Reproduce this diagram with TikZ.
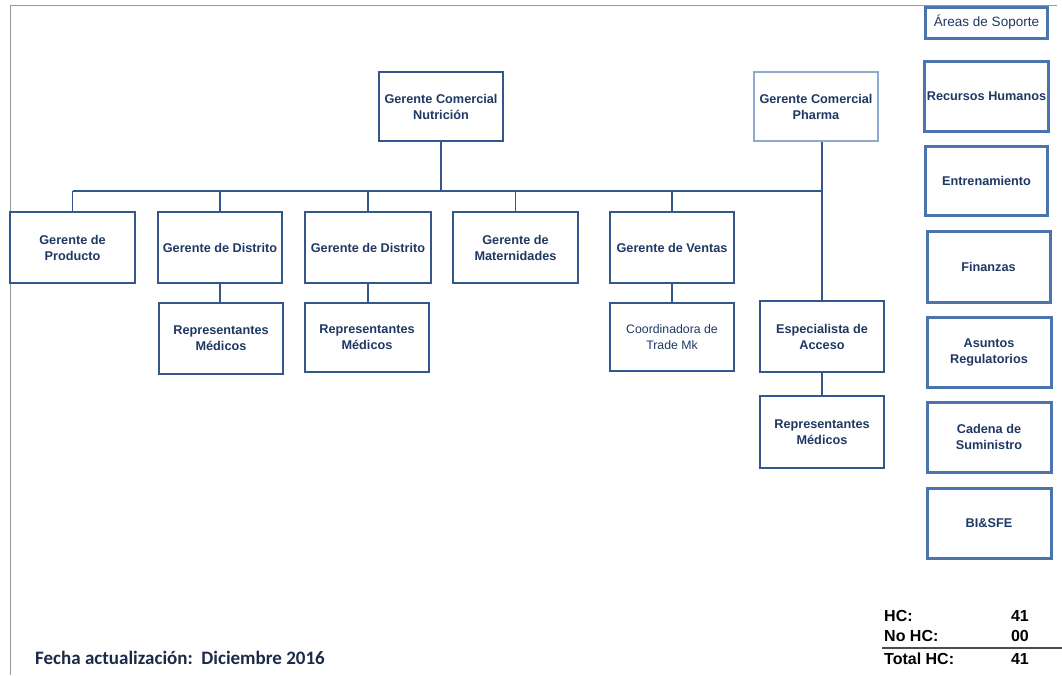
\documentclass[tikz,border=0pt]{standalone}
\usepackage{fontspec}
\setmainfont{Liberation Sans}
\newfontfamily\fechafont{Carlito}
\definecolor{navytext}{HTML}{1F3864}
\definecolor{boxline}{HTML}{34568A}
\definecolor{paleline}{HTML}{8EA9D2}
\definecolor{supline}{HTML}{4A74AD}
\definecolor{linkcol}{HTML}{34568A}
\definecolor{framecol}{HTML}{9A9A9A}
\definecolor{fechacol}{HTML}{1B2A47}
\begin{document}
\begin{tikzpicture}[x=1pt,y=-1pt,
  orgbox/.style={draw=boxline, line width=1.3pt, fill=white, align=center,
    text=navytext, inner sep=2pt,
    font=\bfseries\fontsize{12.7}{16}\selectfont,
    minimum width=124pt, minimum height=70pt},
  plainbox/.style={orgbox, font=\fontsize{12.3}{16}\selectfont},
  supbox/.style={orgbox, draw=supline, line width=3pt, minimum width=122pt},
  link/.style={draw=linkcol, line width=1.2pt},
  hctext/.style={font=\bfseries\fontsize{16}{18}\selectfont, text=black, inner sep=0pt}
]
\useasboundingbox (0,0) rectangle (1062,675);

% sheet frame
\draw[framecol, line width=1pt] (1057,5) -- (10,5) -- (10,675);

% commercial managers
\node[orgbox, minimum height=69pt] (nutr) at (441,106.5) {Gerente Comercial\\Nutrición};
\node[orgbox, draw=paleline, minimum height=69pt] (pharma) at (816,106.5) {Gerente Comercial\\Pharma};

% second level
\node[orgbox, minimum width=125pt, minimum height=71pt] (prod) at (72.5,247.5) {Gerente de\\Producto};
\node[orgbox, minimum height=71pt] (dist1) at (220,247.5) {Gerente de Distrito};
\node[orgbox, minimum width=126pt, minimum height=71pt] (dist2) at (368,247.5) {Gerente de Distrito};
\node[orgbox, minimum width=125pt, minimum height=71pt] (mat) at (515.5,247.5) {Gerente de\\Maternidades};
\node[orgbox, minimum height=71pt] (ventas) at (672,247.5) {Gerente de Ventas};

% third level
\node[orgbox, minimum height=71pt] (rep1) at (221,338.5) {Representantes\\Médicos};
\node[orgbox, minimum height=69pt] (rep2) at (367,337.5) {Representantes\\Médicos};
\node[plainbox, minimum height=68pt] (coord) at (672,337) {Coordinadora de\\Trade Mk};
\node[orgbox, minimum height=71pt] (esp) at (822,336.5) {Especialista de\\Acceso};
\node[orgbox, minimum height=72pt] (rep4) at (822,432) {Representantes\\Médicos};

% support areas
\node[supbox, font=\fontsize{13.5}{15}\selectfont, minimum height=31pt] (areas) at (986.5,22.5) {Áreas de Soporte};
\node[supbox, minimum height=70pt] (rrhh) at (986.5,96) {Recursos Humanos};
\node[supbox, minimum height=69pt] (entr) at (986.5,180.5) {Entrenamiento};
\node[supbox, minimum width=123pt, minimum height=71pt] (fin) at (988.5,266.5) {Finanzas};
\node[supbox, minimum width=124pt, minimum height=70pt] (asun) at (989,352) {Asuntos\\Regulatorios};
\node[supbox, minimum width=124pt, minimum height=70pt] (cad) at (989,437) {Cadena de\\Suministro};
\node[supbox, minimum width=124pt, minimum height=70pt] (bi) at (989,523) {BI\&SFE};

% connectors
\coordinate (bus) at (445,191);
\draw[link] (nutr.south) -- (nutr.south |- bus);
\draw[link] (prod.north |- bus) -- (esp.north |- bus);
\draw[link] (esp.north |- pharma.south) -- (esp.north);
\foreach \n in {prod,dist1,dist2,mat,ventas}
  \draw[link] (\n.north |- bus) -- (\n.north);
\draw[link] (dist1.south) -- (dist1.south |- rep1.north);
\draw[link] (dist2.south) -- (dist2.south |- rep2.north);
\draw[link] (ventas.south) -- (coord.north);
\draw[link] (esp.south) -- (rep4.north);

% head count summary
\node[hctext, anchor=base west] (hcl) at (884,621) {HC:};
\node[hctext, anchor=base east] (hcv) at (1029,621) {41};
\node[hctext, anchor=base west] (nhcl) at (884,641) {No HC:};
\node[hctext, anchor=base east] (nhcv) at (1029,641) {00};
\node[hctext, anchor=base west] (thcl) at (884,664) {Total HC:};
\node[hctext, anchor=base east] (thcv) at (1029,664) {41};
\draw[black!70, line width=1.3pt] (882,648) -- (1062,648);

% update date
\node[anchor=base west, inner sep=0pt, text=fechacol,
  font=\fechafont\bfseries\fontsize{19}{22}\selectfont] (fecha) at (35,664)
  {Fecha actualización:\ \ Diciembre 2016};
\end{tikzpicture}
\end{document}
